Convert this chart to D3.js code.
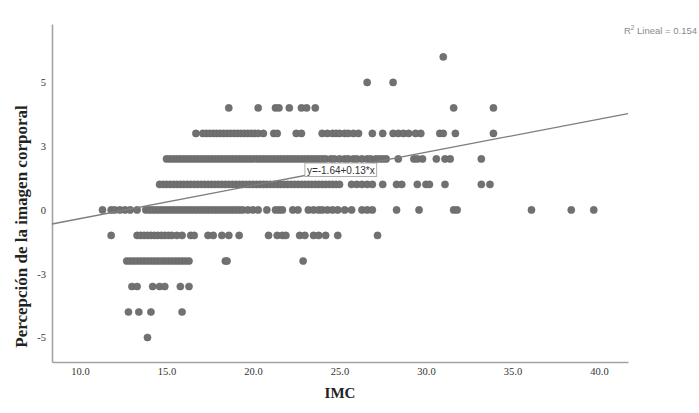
<!DOCTYPE html>
<html>
<head>
<meta charset="utf-8">
<script src="https://cdn.jsdelivr.net/npm/d3@7"></script>
<style>
  html, body { margin: 0; padding: 0; background: #fff; }
  svg { display: block; }
</style>
</head>
<body>
<svg id="chart" width="699" height="413"></svg>
<script>
// ---- Data (IMC values per level of "Percepción de la imagen corporal") ----
const imcAt6 = [31.0];
const imcAt5 = [26.6, 28.1];
const imcAt4 = [18.6, 20.3, 21.3, 21.5, 22.1, 22.8, 23.1, 23.6, 31.6, 33.9];
const imcAt3 = [16.7, 17.1, 17.3, 17.5, 17.7, 17.9, 18.1, 18.3, 18.5, 18.7, 18.9, 19.1, 19.3, 19.5, 19.7, 19.9, 20.1, 20.3,
  20.6, 21.2, 21.4, 22.5, 22.8, 24.0, 24.3, 24.6, 24.8, 25.0, 25.3, 25.5, 25.8, 26.1, 26.9, 27.5, 28.1, 28.4, 28.7, 29.0,
  29.4, 29.7, 30.8, 31.0, 31.7, 33.9];
const imcAt2 = [15.0, 15.2, 15.4, 15.6, 15.8, 16.0, 16.2, 16.4, 16.6, 16.8, 17.0, 17.2, 17.4, 17.6, 17.8, 18.0, 18.2, 18.4,
  18.6, 18.8, 19.0, 19.2, 19.4, 19.6, 19.8, 20.0, 20.2, 20.4, 20.6, 20.8, 21.0, 21.2, 21.4, 21.6, 21.8, 22.0, 22.2, 22.4,
  22.6, 22.8, 23.0, 23.2, 23.4, 23.6, 23.8, 24.0, 24.2, 24.5, 24.7, 25.0, 25.3, 25.5, 25.8, 26.0, 26.3, 26.6, 26.8, 27.1,
  27.3, 27.5, 27.7, 28.4, 29.3, 29.5, 29.8, 30.6, 31.1, 31.4, 33.2];
const imcAt1 = [14.6, 14.8, 15.0, 15.2, 15.4, 15.6, 15.8, 16.0, 16.2, 16.4, 16.6, 16.8, 17.0, 17.2, 17.4, 17.6, 17.8, 18.0,
  18.2, 18.4, 18.6, 18.8, 19.0, 19.2, 19.4, 19.6, 19.8, 20.0, 20.2, 20.4, 20.6, 20.8, 21.0, 21.2, 21.4, 21.6, 21.8, 22.0,
  22.2, 22.4, 22.6, 22.8, 23.0, 23.2, 23.4, 23.6, 23.8, 24.0, 24.2, 24.4, 24.6, 24.8, 25.0, 25.7, 26.0, 26.3, 26.6, 26.9,
  27.5, 28.3, 28.6, 29.5, 30.0, 30.2, 31.1, 33.2, 33.7];
const imcAt0 = [11.3, 11.8, 12.0, 12.3, 12.6, 12.9, 13.3, 13.8, 14.0, 14.2, 14.4, 14.6, 14.8, 15.0, 15.2, 15.4, 15.6, 15.8,
  16.0, 16.2, 16.4, 16.6, 16.8, 17.0, 17.2, 17.4, 17.6, 17.8, 18.0, 18.2, 18.4, 18.6, 18.8, 19.0, 19.2, 19.4, 19.7, 20.0,
  20.3, 20.8, 21.3, 21.5, 21.7, 22.3, 22.6, 23.2, 23.5, 23.8, 24.0, 24.3, 24.6, 24.9, 25.3, 25.7, 26.3, 26.6, 26.9, 28.3,
  29.6, 31.6, 31.8, 36.1, 38.4, 39.7];
const imcAtM1 = [11.8, 13.3, 13.5, 13.7, 13.9, 14.1, 14.3, 14.5, 14.7, 14.9, 15.1, 15.3, 15.6, 15.9, 16.4, 16.6, 17.4, 17.7,
  18.2, 18.6, 19.2, 20.9, 21.4, 21.7, 21.9, 22.7, 23.0, 23.5, 23.8, 24.2, 24.9, 27.2];
const imcAtM2 = [12.7, 12.9, 13.1, 13.3, 13.5, 13.7, 13.9, 14.1, 14.3, 14.5, 14.7, 14.9, 15.1, 15.3, 15.5, 15.7, 15.9, 16.1,
  16.3, 18.4, 18.5, 22.9];
const imcAtM3 = [13.0, 13.3, 14.2, 14.6, 14.9, 15.8, 16.3];
const imcAtM4 = [12.8, 13.4, 14.1, 15.9];
const imcAtM5 = [13.9];

const levels = [6, 5, 4, 3, 2, 1, 0, -1, -2, -3, -4, -5];
const imcByLevel = [imcAt6, imcAt5, imcAt4, imcAt3, imcAt2, imcAt1, imcAt0, imcAtM1, imcAtM2, imcAtM3, imcAtM4, imcAtM5];

const xTickValues = [10, 15, 20, 25, 30, 35, 40];
const xTickLabels = ["10.0", "15.0", "20.0", "25.0", "30.0", "35.0", "40.0"];
const yTickValues = [-5, -2.5, 0, 2.5, 5];
const yTickLabels = ["-5", "-3", "0", "3", "5"];

const regIntercept = -1.64;
const regSlope = 0.13;
const rSquared = "0.154";
const equationText = "y=-1.64+0.13*x";
const xTitle = "IMC";
const yTitle = "Percepción de la imagen corporal";

// ---- Layout ----
const W = 699, H = 413;
const plot = { left: 52, right: 628, top: 24, bottom: 362 };
const xDomain = [8.38, 41.68];
const yDomain = [-5.96, 7.29];

const svg = d3.select("#chart");
const x = d3.scaleLinear().domain(xDomain).range([plot.left, plot.right]);
const y = d3.scaleLinear().domain(yDomain).range([plot.bottom, plot.top]);

const points = [];
levels.forEach((lv, i) => imcByLevel[i].forEach(v => points.push({ imc: v, val: lv })));

const axisColor = "#a3a3a3";
const serif = "'Liberation Serif', 'Times New Roman', serif";
const sans = "'Liberation Sans', Arial, sans-serif";

// Axes
const xAxis = svg.append("g")
  .attr("transform", `translate(0,${plot.bottom})`)
  .call(d3.axisBottom(x).tickValues(xTickValues)
    .tickFormat((d, i) => xTickLabels[i]).tickSize(0).tickSizeOuter(0).tickPadding(6));
const yAxis = svg.append("g")
  .attr("transform", `translate(${plot.left},0)`)
  .call(d3.axisLeft(y).tickValues(yTickValues)
    .tickFormat((d, i) => yTickLabels[i]).tickSize(0).tickSizeOuter(0).tickPadding(6));
[xAxis, yAxis].forEach(g => {
  g.select(".domain").attr("stroke", axisColor).attr("stroke-width", 1.6);
  g.selectAll("text").attr("font-family", serif).attr("font-size", 10.5).attr("fill", "#333");
});

// Points
svg.append("g").selectAll("circle")
  .data(points)
  .join("circle")
  .attr("cx", d => x(d.imc))
  .attr("cy", d => y(d.val))
  .attr("r", 3.6)
  .attr("fill", "#717171")
  .attr("stroke", "#666")
  .attr("stroke-width", 0.5);

// Regression line
svg.append("line")
  .attr("x1", x(xDomain[0])).attr("y1", y(regIntercept + regSlope * xDomain[0]))
  .attr("x2", x(xDomain[1])).attr("y2", y(regIntercept + regSlope * xDomain[1]))
  .attr("stroke", "#7d7d7d").attr("stroke-width", 1.3);

// Equation label box
const eqAt = { imc: 23.0, val: 1.84 };
const eqG = svg.append("g").attr("transform", `translate(${x(eqAt.imc)},${y(eqAt.val)})`);
const eqRect = eqG.append("rect").attr("fill", "#fff").attr("stroke", "#9a9a9a").attr("stroke-width", 0.8);
const eqText = eqG.append("text").attr("x", 2).attr("y", 10.5)
  .attr("font-family", sans).attr("font-size", 10).attr("fill", "#333").text(equationText);
const bb = eqText.node().getBBox();
eqRect.attr("x", 0).attr("y", 0).attr("width", bb.width + 4).attr("height", 13.5);

// R² label
const r2 = svg.append("text").attr("x", 697).attr("y", 34).attr("text-anchor", "end")
  .attr("font-family", sans).attr("font-size", 9.5).attr("fill", "#8a8a8a");
r2.append("tspan").text("R");
r2.append("tspan").attr("font-size", 6.5).attr("dy", -4).text("2");
r2.append("tspan").attr("dy", 4).text(" Lineal = " + rSquared);

// Axis titles
svg.append("text")
  .attr("x", 340).attr("y", 398)
  .attr("text-anchor", "middle")
  .attr("font-family", serif).attr("font-weight", "bold").attr("font-size", 15).attr("fill", "#222")
  .text(xTitle);
svg.append("text")
  .attr("transform", `translate(27,226.5) rotate(-90)`)
  .attr("text-anchor", "middle")
  .attr("font-family", serif).attr("font-weight", "bold").attr("font-size", 17).attr("fill", "#222")
  .text(yTitle);
</script>
</body>
</html>
